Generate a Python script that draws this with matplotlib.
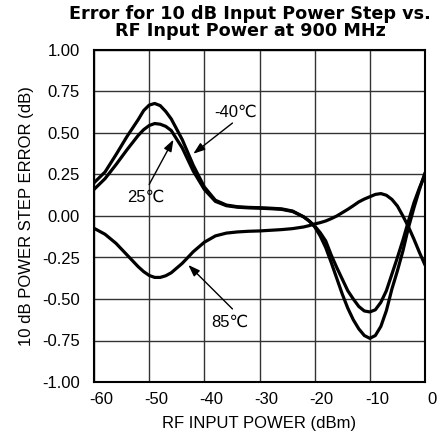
import matplotlib
matplotlib.use("Agg")
import matplotlib.pyplot as plt
from matplotlib.transforms import ScaledTranslation

plt.rcParams['font.family'] = ['Liberation Sans', 'DejaVu Sans']

# RF input power (dBm)
power = [-60, -58, -56, -54, -52, -51, -50, -49, -48, -47, -46, -44, -42, -40,
         -38, -36, -34, -32, -30, -28, -26, -24, -22, -21, -20, -19, -18, -17,
         -16, -15, -14, -13, -12, -11, -10, -9, -8, -7, -6, -5, -4, -3, -2, -1, 0]

# step error (dB) per temperature
err_m40 = [0.20, 0.265, 0.37, 0.48, 0.58, 0.635, 0.668, 0.678, 0.665, 0.63, 0.585,
           0.46, 0.305, 0.175, 0.095, 0.066, 0.056, 0.052, 0.05, 0.047, 0.043, 0.03,
           -0.005, -0.03, -0.065, -0.12, -0.19, -0.28, -0.375, -0.47, -0.555, -0.625,
           -0.68, -0.72, -0.737, -0.72, -0.665, -0.57, -0.44, -0.33, -0.21, -0.07,
           0.05, 0.16, 0.26]
err_25 = [0.16, 0.225, 0.31, 0.40, 0.485, 0.52, 0.545, 0.557, 0.553, 0.54, 0.515,
          0.41, 0.27, 0.16, 0.088, 0.062, 0.053, 0.049, 0.047, 0.044, 0.04, 0.027,
          -0.005, -0.03, -0.06, -0.10, -0.15, -0.235, -0.31, -0.38, -0.45, -0.50,
          -0.545, -0.572, -0.578, -0.565, -0.52, -0.45, -0.35, -0.25, -0.145, -0.03,
          0.08, 0.17, 0.25]
err_85 = [-0.074, -0.11, -0.165, -0.235, -0.305, -0.335, -0.358, -0.37, -0.37, -0.36,
          -0.342, -0.285, -0.215, -0.158, -0.12, -0.103, -0.096, -0.092, -0.09, -0.086,
          -0.082, -0.076, -0.066, -0.058, -0.048, -0.04, -0.03, -0.016, 0.0, 0.02, 0.04,
          0.062, 0.085, 0.102, 0.116, 0.13, 0.135, 0.125, 0.10, 0.06, 0.0, -0.065,
          -0.14, -0.22, -0.295]

xticks = [-60, -50, -40, -30, -20, -10, 0]
yticks = [-1.0, -0.75, -0.5, -0.25, 0.0, 0.25, 0.5, 0.75, 1.0]

# labels: text, text position, arrow tail, arrow head
notes = [("-40℃", (-34.4, 0.625), (-34.9, 0.56), (-42.0, 0.375)),
         ("25℃", (-50.6, 0.11), (-50.0, 0.19), (-45.6, 0.46)),
         ("85℃", (-35.3, -0.64), (-34.9, -0.56), (-42.9, -0.295))]

fig = plt.figure(figsize=(4.4, 4.36), dpi=100)
ax = fig.add_axes([94/440, 1 - 382/436, 331/440, 332/436])

for y in [err_m40, err_25, err_85]:
    ax.plot(power, y, color='black', lw=2.3, solid_capstyle='round',
            solid_joinstyle='round', zorder=3)

ax.set_xlim(-60, 0)
ax.set_ylim(-1, 1)
ax.set_xticks(xticks)
ax.set_yticks(yticks)
ax.set_xticklabels([str(t) for t in xticks])
ax.set_yticklabels([f"{t:.2f}" for t in yticks])
ax.tick_params(length=0, labelsize=12)
ax.tick_params(axis='y', pad=10)
ax.tick_params(axis='x', pad=7.5)
for lab in ax.get_xticklabels():
    lab.set_transform(lab.get_transform() + ScaledTranslation(7/100, 0, fig.dpi_scale_trans))

ax.grid(True, color='#333333', lw=1.0)
ax.set_axisbelow(True)
for s in ax.spines.values():
    s.set_linewidth(1.5)
    s.set_color('black')

ax.set_xlabel("RF INPUT POWER (dBm)", fontsize=12, labelpad=6)
ax.set_ylabel("10 dB POWER STEP ERROR (dB)", fontsize=12, labelpad=6)

for txt, pos, tail, head in notes:
    ax.text(pos[0], pos[1], txt, fontsize=12, ha='center', va='center', zorder=4)
    ax.annotate("", xy=head, xytext=tail,
                arrowprops=dict(arrowstyle='-|>,head_length=0.7,head_width=0.25',
                                color='black', lw=1.0, shrinkA=0, shrinkB=0))

fig.text(250/440, 1 - 5/436, "Error for 10 dB Input Power Step vs.\nRF Input Power at 900 MHz",
         ha='center', va='top', fontsize=12.7, fontweight='bold', linespacing=0.93,
         family='DejaVu Sans')

fig.savefig("out.png", dpi=100)
